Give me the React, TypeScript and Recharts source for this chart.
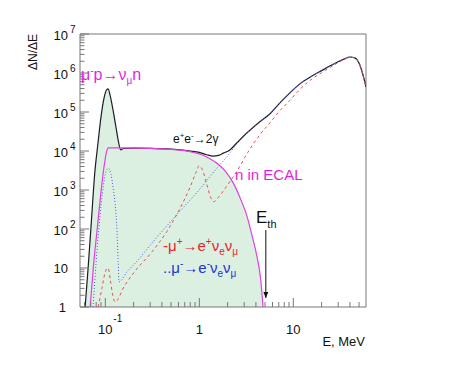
import React from "react";
import {
  ComposedChart,
  Line,
  Area,
  XAxis,
  YAxis,
  ReferenceArea,
  ReferenceLine,
} from "recharts";

// energy spectra: [E in MeV, dN/dE]
const totalCurve: [number, number][] = [
  [0.061, 1], [0.066, 12], [0.071, 150], [0.077, 2500], [0.0836, 1.6e4],
  [0.09, 7.5e4], [0.097, 2.3e5], [0.103, 3.7e5], [0.107, 3.9e5], [0.112, 2.8e5],
  [0.121, 1.1e5], [0.13, 4e4], [0.137, 1.9e4], [0.146, 1.07e4], [0.155, 1.16e4],
  [0.2, 1.18e4], [0.3, 1.17e4], [0.5, 1.12e4], [0.7, 1.04e4], [0.9, 9600],
  [1.0, 9200], [1.2, 8000], [1.4, 7400], [1.6, 7700], [1.8, 8800],
  [2.1, 1.05e4], [2.5, 1.6e4], [3.0, 2.5e4], [3.5, 3.5e4], [4.4, 5.6e4],
  [5.65, 9e4], [7, 1.6e5], [9.2, 3.1e5], [12, 5.5e5], [16, 8.5e5],
  [20, 1.15e6], [25, 1.55e6], [30, 1.95e6], [35, 2.3e6], [40, 2.57e6],
  [45, 2.45e6], [51, 1.6e6], [55, 9e5], [59.3, 4.4e5],
];

const neutronCurve: [number, number][] = [
  [0.069, 1], [0.075, 12], [0.082, 100], [0.09, 900], [0.097, 4000],
  [0.103, 9500], [0.108, 1.2e4], [0.15, 1.2e4], [0.3, 1.17e4], [0.5, 1.1e4],
  [0.7, 1.02e4], [0.9, 9000], [1.1, 7800], [1.3, 6300], [1.6, 4500],
  [1.9, 3000], [2.3, 1500], [2.7, 650], [3.2, 220], [3.6, 75],
  [4.1, 20], [4.5, 5], [4.76, 1],
];

const muPlusCurve: [number, number][] = [
  [0.084, 1], [0.092, 3], [0.1, 8], [0.107, 10], [0.113, 5],
  [0.12, 2], [0.127, 1.35], [0.16, 3.5], [0.2, 7.5], [0.314, 26],
  [0.45, 85], [0.62, 330], [0.8, 1200], [0.92, 2800], [1.0, 4200],
  [1.08, 3300], [1.2, 1400], [1.32, 650], [1.42, 500], [1.6, 650],
  [1.88, 1100], [2.5, 3000], [3.26, 9000], [4.4, 2.6e4], [5.65, 5.3e4],
  [7, 1.0e5], [9.2, 2.0e5], [12, 4e5], [16, 7.2e5], [20, 1.02e6],
  [25, 1.42e6], [30, 1.85e6], [35, 2.25e6], [40, 2.55e6], [45, 2.45e6],
  [51, 1.6e6], [55, 9e5], [59.3, 4.4e5],
];

const muMinusCurve: [number, number][] = [
  [0.074, 1], [0.08, 15], [0.0875, 200], [0.095, 1200], [0.102, 3000],
  [0.108, 3600], [0.115, 2500], [0.122, 1000], [0.127, 460], [0.133, 90],
  [0.137, 15], [0.14, 4.4], [0.17, 8], [0.2, 12], [0.34, 55],
  [0.6, 260], [1.09, 1300], [1.5, 3400], [2.12, 8900], [2.5, 1.55e4],
  [3.0, 2.5e4], [3.5, 3.5e4], [4.4, 5.6e4], [5.65, 9e4], [7, 1.6e5],
  [9.2, 3.1e5], [12, 5.5e5], [16, 8.5e5], [20, 1.15e6], [25, 1.55e6],
  [30, 1.95e6], [35, 2.3e6], [40, 2.57e6], [45, 2.45e6], [51, 1.6e6],
  [55, 9e5], [59.3, 4.4e5],
];

// shaded region: under the total peak, then under the neutron curve
const fillSplitE = 0.146;
const fillCurve: [number, number][] = [
  ...totalCurve.filter((p) => p[0] <= fillSplitE),
  ...neutronCurve.filter((p) => p[0] > fillSplitE),
];

const xMajor = [0.1, 1, 10];
const xTicks = [
  0.06, 0.07, 0.08, 0.09, 0.1, 0.2, 0.3, 0.4, 0.5, 0.6, 0.7, 0.8, 0.9,
  1, 2, 3, 4, 5, 6, 7, 8, 9, 10, 20, 30, 40, 50,
];
const yDecades = [0, 1, 2, 3, 4, 5, 6, 7];
const yTicks = yDecades.flatMap((k) =>
  k === 7 ? [1e7] : [1, 2, 3, 4, 5, 6, 7, 8, 9].map((m) => m * Math.pow(10, k))
);

const X_MIN = 0.0538;
const X_MAX = 59.3;
const thresholdE = 5.1;

const series: Record<string, [number, number][]> = {
  fill: fillCurve,
  total: totalCurve,
  neutron: neutronCurve,
  muPlus: muPlusCurve,
  muMinus: muMinusCurve,
};

const energies = Array.from(
  new Set(Object.values(series).flatMap((c) => c.map((p) => p[0])))
).sort((a, b) => a - b);

const data = energies.map((E) => {
  const row: Record<string, number | null> = { E };
  for (const [key, curve] of Object.entries(series)) {
    const hit = curve.find((p) => p[0] === E);
    row[key] = hit ? hit[1] : null;
  }
  return row;
});

const FONT = '"Liberation Sans", Arial, Helvetica, sans-serif';
const AXIS = "#777";
const MAGENTA = "#e41fdc";
const RED = "#e8232b";
const BLUE = "#2233d6";

const XTick = (props: any) => {
  const { x, y, payload } = props;
  const v = payload.value;
  const major = xMajor.includes(v);
  return (
    <g>
      <line x1={x} x2={x} y1={y} y2={y - (major ? 9 : 5)} stroke={AXIS} />
      {major && v === 0.1 && (
        <g fontFamily={FONT} fill="#111">
          <text x={x} y={y + 27} fontSize={13} textAnchor="middle">10</text>
          <text x={x + 8} y={y + 15} fontSize={10}>-1</text>
        </g>
      )}
      {major && v !== 0.1 && (
        <text x={x} y={y + 27} fontSize={13} textAnchor="middle" fontFamily={FONT} fill="#111">
          {v === 1 ? "1" : "10"}
        </text>
      )}
    </g>
  );
};

const YTick = (props: any) => {
  const { x, y, payload } = props;
  const v = payload.value;
  const k = Math.round(Math.log10(v));
  const major = Math.abs(v - Math.pow(10, k)) < 1e-6 * v;
  return (
    <g>
      <line x1={x} x2={x + (major ? 9 : 4.5)} y1={y} y2={y} stroke={AXIS} />
      {major && k >= 2 && (
        <g fontFamily={FONT} fill="#111">
          <text x={x - 12} y={y + 6} fontSize={13} textAnchor="end">10</text>
          <text x={x - 10} y={y - 1} fontSize={10}>{k}</text>
        </g>
      )}
      {major && k < 2 && (
        <text x={x - (k === 1 ? 12 : 14)} y={y + 5} fontSize={13} textAnchor="end" fontFamily={FONT} fill="#111">
          {k === 1 ? "10" : "1"}
        </text>
      )}
    </g>
  );
};

const ArrowShape = (props: any) => {
  const { x1, y1, x2, y2 } = props;
  return (
    <g>
      <line x1={x1} y1={y1} x2={x2} y2={y2} stroke="#111" strokeWidth={1} />
      <path d={`M${x2 - 2.5},${y2 - 6} L${x2},${y2} L${x2 + 2.5},${y2 - 6} Z`} fill="#111" />
    </g>
  );
};

export default function App() {
  return (
    <div style={{ position: "absolute", left: 0, top: 0, width: 457, height: 366, background: "#fff" }}>
      <ComposedChart
        width={457}
        height={366}
        data={data}
        margin={{ top: 34, right: 91, bottom: 0, left: 0 }}
      >
        <XAxis
          dataKey="E"
          type="number"
          scale="log"
          domain={[X_MIN, X_MAX]}
          allowDataOverflow
          ticks={xTicks}
          interval={0}
          tick={<XTick />}
          tickLine={false}
          axisLine={false}
          tickSize={0}
          tickMargin={0}
          height={59}
        />
        <YAxis
          type="number"
          scale="log"
          domain={[1, 1e7]}
          allowDataOverflow
          ticks={yTicks}
          interval={0}
          tick={<YTick />}
          tickLine={false}
          axisLine={false}
          tickSize={0}
          tickMargin={0}
          width={80}
        />
        <Area
          dataKey="fill"
          type="monotone"
          baseValue={1}
          fill="#dcf0e1"
          fillOpacity={1}
          stroke="none"
          connectNulls
          isAnimationActive={false}
        />
        <Line dataKey="total" type="monotone" stroke="#1c1c28" strokeWidth={1.2} dot={false} connectNulls isAnimationActive={false} />
        <Line dataKey="neutron" type="monotone" stroke="#e23ee0" strokeWidth={1.2} dot={false} connectNulls isAnimationActive={false} />
        <Line dataKey="muPlus" type="monotone" stroke="#e65050" strokeWidth={1} strokeDasharray="3 3" dot={false} connectNulls isAnimationActive={false} />
        <Line dataKey="muMinus" type="monotone" stroke="#4a5ae0" strokeWidth={1} strokeDasharray="1 2" dot={false} connectNulls isAnimationActive={false} />
        <ReferenceLine
          segment={[{ x: thresholdE, y: 94 }, { x: thresholdE, y: 1.7 }]}
          shape={<ArrowShape />}
        />
        <ReferenceArea x1={X_MIN} x2={X_MAX} y1={1} y2={1e7} fill="none" stroke={AXIS} strokeWidth={1} />
      </ComposedChart>
      <svg
        width={457}
        height={366}
        style={{ position: "absolute", left: 0, top: 0, pointerEvents: "none" }}
        fontFamily={FONT}
      >
        <text transform="translate(37,52) rotate(-90)" textAnchor="middle" fontSize={12} fill="#111">
          ΔN/ΔE
        </text>
        <text x={365} y={346} textAnchor="end" fontSize={13} fill="#111">E, MeV</text>
        <text x={81} y={80} fontSize={16} fill={MAGENTA}>
          μ<tspan dy={-6} fontSize={10}>-</tspan>
          <tspan dy={6}>p→ν</tspan>
          <tspan dy={4} fontSize={10}>μ</tspan>
          <tspan dy={-4}>n</tspan>
        </text>
        <text x={173} y={143} fontSize={12} fill="#111">
          e<tspan dy={-5} fontSize={8}>+</tspan>
          <tspan dy={5}>e</tspan>
          <tspan dy={-5} fontSize={8}>-</tspan>
          <tspan dy={5}>→2γ</tspan>
        </text>
        <text x={235} y={180} fontSize={15} fill={MAGENTA}>n in ECAL</text>
        <text x={256} y={223} fontSize={17} fill="#111">
          E<tspan dy={5} fontSize={11}>th</tspan>
        </text>
        <text x={163} y={251} fontSize={15} fill={RED}>
          -μ<tspan dy={-6} fontSize={10}>+</tspan>
          <tspan dy={6}>→e</tspan>
          <tspan dy={-6} fontSize={10}>+</tspan>
          <tspan dy={6}>ν</tspan>
          <tspan dy={4} fontSize={10}>e</tspan>
          <tspan dy={-4}>ν</tspan>
          <tspan dy={4} fontSize={10}>μ</tspan>
        </text>
        <text x={163} y={273} fontSize={15} fill={BLUE}>
          ..μ<tspan dy={-6} fontSize={10}>-</tspan>
          <tspan dy={6}>→e</tspan>
          <tspan dy={-6} fontSize={10}>-</tspan>
          <tspan dy={6}>ν</tspan>
          <tspan dy={4} fontSize={10}>e</tspan>
          <tspan dy={-4}>ν</tspan>
          <tspan dy={4} fontSize={10}>μ</tspan>
        </text>
      </svg>
    </div>
  );
}
